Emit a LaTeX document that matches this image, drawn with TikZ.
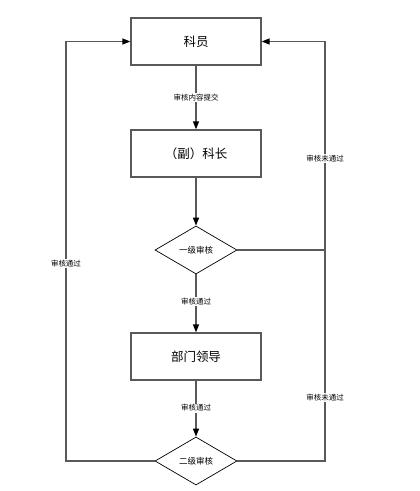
\documentclass[tikz,border=0pt]{standalone}
\usepackage{fontspec}
\setmainfont{Noto Sans CJK SC}
\usetikzlibrary{shapes.geometric,arrows.meta}
\begin{document}
\begin{tikzpicture}[x=1pt,y=-1pt,
  box/.style={draw=black!65,line width=1.3pt,minimum width=130pt,minimum height=47pt,inner sep=0pt,font=\fontsize{12.5}{14}\selectfont},
  dia/.style={draw=black,line width=0.7pt,diamond,aspect=1.7,minimum width=82pt,minimum height=48pt,inner sep=0pt,font=\fontsize{8.5}{10}\selectfont},
  conn/.style={draw=black!65,line width=1.3pt},
  arr/.style={conn,-{Triangle[length=8pt,width=6pt,color=black]}},
  lbl/.style={fill=white,inner sep=1pt,font=\fontsize{7.5}{9}\selectfont}]
\useasboundingbox (0,0) rectangle (420,491);
\node[box] (b1) at (196,41.5) {科员};
\node[box] (b2) at (196,153.5) {（副）科长};
\node[dia] (d1) at (196,250) {一级审核};
\node[box] (b3) at (196,356.5) {部门领导};
\node[dia] (d2) at (196,461) {二级审核};
\coordinate (r1) at (325,250);
\coordinate (r0) at (325,41.5);
\coordinate (r2) at (325,461);
\coordinate (l2) at (66,461);
\coordinate (l0) at (66,41.5);
\draw[arr] (b1) -- node[lbl,pos=0.5]{审核内容提交} (b2);
\draw[arr] (b2) -- (d1);
\draw[arr] (d1) -- node[lbl,pos=0.47]{审核通过} (b3);
\draw[arr] (b3) -- node[lbl,pos=0.49]{审核通过} (d2);
\draw[conn] (d1.east) -- (r1);
\draw[arr] (r1) -- node[lbl,pos=0.44]{审核未通过} (r0) -- (b1.east);
\draw[conn] (d2.east) -- (r2) -- node[lbl,pos=0.30]{审核未通过} (r1);
\draw[arr] (d2.west) -- (l2) -- node[lbl,pos=0.47]{审核通过} (l0) -- (b1.west);
\end{tikzpicture}
\end{document}
